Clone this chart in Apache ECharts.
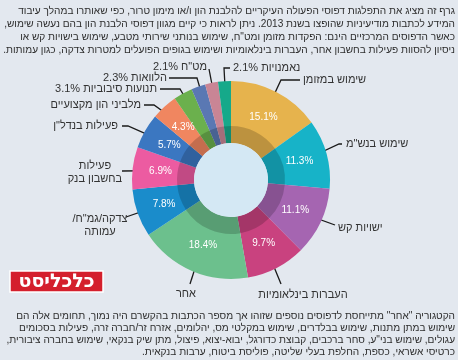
<!DOCTYPE html>
<html>
<head>
<meta charset="utf-8">
<script src="https://cdn.jsdelivr.net/npm/echarts@6/dist/echarts.min.js"></script>
<style>
html,body{margin:0;padding:0;background:#e3e8ef;}
#c{width:458px;height:360px;direction:rtl;}
</style>
</head>
<body>
<div id="c"></div>
<script>
// ---- data ----
const categories = [
  'שימוש במזומן',
  'שימוש בנש"מ',
  'ישויות קש',
  'העברות בינלאומיות',
  'אחר',
  'צדקה/גמ"ח/\nעמותה',
  'פעילות\nבחשבון בנק',
  'פעילות בנדל"ן',
  'מלביני הון מקצועיים',
  'תנועות סיבוביות',
  'הלוואות',
  'מט"ח',
  'נאמנויות'
];
const values = [15.1, 11.3, 11.1, 9.7, 18.4, 7.8, 6.9, 5.7, 4.3, 3.1, 2.3, 2.1, 2.1];
const topText = [
  'גרף זה מציג את התפלגות דפוסי הפעולה העיקריים להלבנת הון ו/או מימון טרור, כפי שאותרו במהלך עיבוד',
  'המידע לכתבות מודיעיניות שהופצו בשנת 2013. ניתן לראות כי קיים מגוון דפוסי הלבנת הון בהם נעשה שימוש,',
  'כאשר הדפוסים המרכזיים הינם: הפקדות מזומן ומט"ח, שימוש בנותני שירותי מטבע, שימוש בישויות קש או',
  'ניסיון להסוות פעילות בחשבון אחר, העברות בינלאומיות ושימוש בגופים הפועלים למטרות צדקה, כגון עמותות.'
];
const bottomText = [
  'הקטגוריה "אחר" מתייחסת לדפוסים נוספים שזוהו אך מספר הכתבות בהקשרם היה נמוך, תחומים אלה הם',
  'שימוש במתן מתנות, שימוש בבלדרים, שימוש במקלטי מס, יהלומים, אזרח זר/חברה זרה, פעילות בסכומים',
  'עגולים, שימוש בני"ע, סחר ברכבים, קבוצת כדורגל, יבוא-יצוא, פיצול, מתן שיק בנקאי, שימוש בחברה ציבורית,',
  'כרטיסי אשראי, כספת, החלפת בעלי שליטה, פוליסת ביטוח, ערבות בנקאית.'
];
const logoText = 'כלכליסט';

// ---- styles / layout ----
const colors = ['#e6b34d','#17b3c8','#a565b1','#c9427f','#6cc08d','#1a8ccb','#ec5ba1','#3b77c1','#f08660','#6bb04d','#5a78b3','#c98595','#16a98a'];
const CX = 231, CY = 180, R0 = 37, R1 = 99, RDARK = 54, RLINE = 77;
const labelAnchors = [
  {x:303, y:80,  align:'left',   ex:300, ey:80,  h:-19},
  {x:346, y:144, align:'left',   ex:342, ey:144, h:-3},
  {x:338, y:228, align:'left',   ex:335, ey:225, h:0},
  {x:303, y:295, align:'center', ex:281, ey:284, h:0},
  {x:186, y:294, align:'center', ex:190, ey:284, h:0},
  {x:100, y:225, align:'center', ex:126, ey:217, h:0},
  {x:95,  y:172, align:'center', ex:122, ey:171, h:0},
  {x:118, y:126, align:'right',  ex:122, ey:126, h:6},
  {x:141, y:105, align:'right',  ex:144, ey:105, h:10},
  {x:157, y:89,  align:'right',  ex:160, ey:89,  h:20},
  {x:167, y:78,  align:'right',  ex:169, ey:78,  h:28},
  {x:207, y:67,  align:'right',  ex:209, ey:69,  h:0},
  {x:233, y:68,  align:'left',   ex:230, ey:68,  h:-6}
];
const FONT = '"Liberation Sans", Arial, sans-serif';

const pieData = categories.map((n, i) => ({name: n, value: values[i], itemStyle: {color: colors[i]}}));

const chart = echarts.init(document.getElementById('c'), null, {renderer: 'canvas'});

const graphics = [];
topText.forEach((t, i) => graphics.push({
  type: 'text', x: 455, y: 11 + i * 13,
  style: {text: t, font: '10.1px ' + FONT, fill: '#2e2e2e', textAlign: 'right', textVerticalAlign: 'middle'}
}));
bottomText.forEach((t, i) => graphics.push({
  type: 'text', x: 455, y: 316 + i * 12.1,
  style: {text: t, font: '10.1px ' + FONT, fill: '#2e2e2e', textAlign: 'right', textVerticalAlign: 'middle'}
}));
graphics.push({
  type: 'group', x: 10, y: 271,
  children: [
    {type: 'rect', shape: {x: 0, y: 0, width: 93, height: 21}, style: {fill: '#d41f2c', stroke: '#ffffff', lineWidth: 1.5}},
    {type: 'text', x: 46.5, y: 11, style: {text: logoText, font: 'bold 19px "DejaVu Sans", sans-serif', fill: '#ffffff', textAlign: 'center', textVerticalAlign: 'middle'}}
  ]
});

chart.setOption({
  backgroundColor: '#e3e8ef',
  animation: false,
  graphic: graphics,
  series: [
    {
      type: 'pie', center: [CX, CY], radius: [R0, R1], startAngle: 90, clockwise: true,
      silent: true, data: pieData,
      itemStyle: {borderWidth: 0},
      label: {
        show: true, position: 'inside', color: '#ffffff', fontSize: 10, fontFamily: FONT,
        formatter: p => p.value >= 4 ? p.value.toFixed(1) + '%' : ''
      },
      labelLine: {show: false}
    },
    {
      type: 'pie', center: [CX, CY], radius: [R0, RDARK], startAngle: 90, clockwise: true,
      silent: true, data: values.map(v => ({value: v})),
      itemStyle: {color: 'rgba(0,0,0,0.18)', borderWidth: 0},
      label: {show: false}, labelLine: {show: false}
    },
    {
      type: 'pie', center: [CX, CY], radius: [0, R0], silent: true,
      data: [{value: 1}], itemStyle: {color: '#d4e8f4'},
      label: {show: false}, labelLine: {show: false}
    },
    {
      type: 'pie', center: [CX, CY], radius: [R0, R1], startAngle: 90, clockwise: true,
      silent: true, data: pieData.map(d => ({name: d.name, value: d.value, itemStyle: {color: 'rgba(0,0,0,0)'}})),
      label: {
        show: true, position: 'outside', color: '#333333', fontSize: 11, fontFamily: FONT, lineHeight: 13,
        formatter: p => p.value < 4 ? p.name + ' ' + p.value.toFixed(1) + '%' : p.name
      },
      labelLine: {show: true, length: 5, length2: 5, lineStyle: {color: '#1a1a1a', width: 1.3}},
      labelLayout: function (params) {
        const a = labelAnchors[params.dataIndex];
        const pts = params.labelLinePoints;
        let start = [CX, CY];
        if (pts && pts[0]) {
          const k = RLINE / R1;
          start = [CX + (pts[0][0] - CX) * k, CY + (pts[0][1] - CY) * k];
        }
        return {
          x: a.x, y: a.y, align: a.align, verticalAlign: 'middle',
          labelLinePoints: [start, [a.ex + a.h, a.ey], [a.ex, a.ey]]
        };
      }
    }
  ]
});
</script>
</body>
</html>
